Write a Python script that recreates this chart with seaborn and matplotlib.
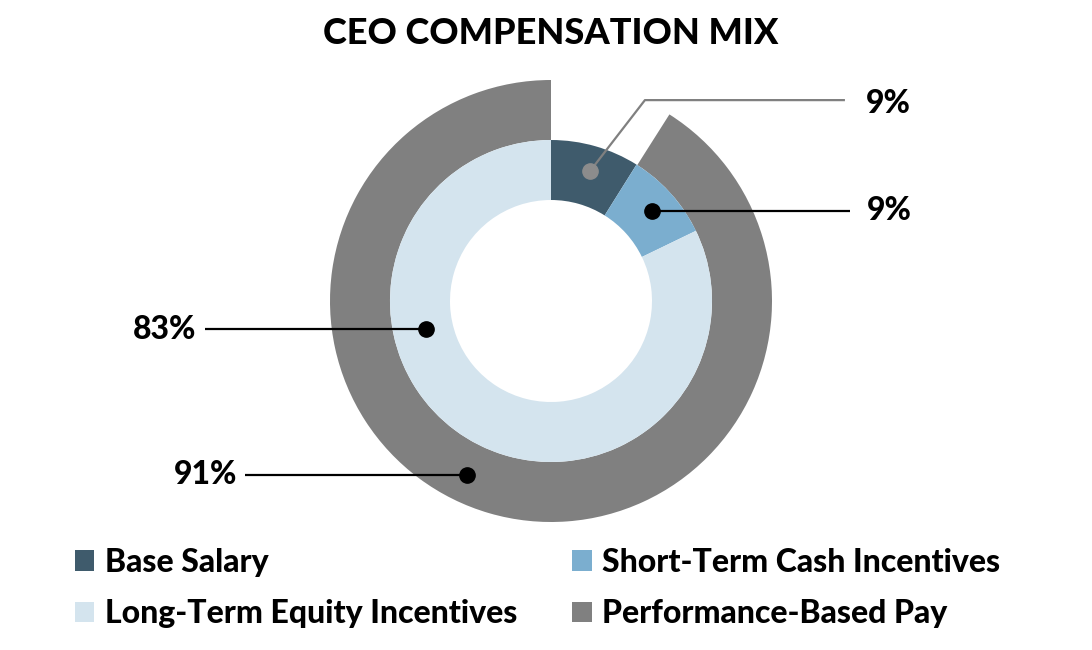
import numpy as np
import matplotlib
matplotlib.use("Agg")
import matplotlib.pyplot as plt
import seaborn as sns
from matplotlib.patches import Patch

# ---- data ----
title = "CEO COMPENSATION MIX"
inner_labels = ["Base Salary", "Short-Term Cash Incentives", "Long-Term Equity Incentives"]
inner_values = [9, 9, 83]
outer_labels = ["Fixed", "Performance-Based Pay"]
outer_values = [9, 91]
# legend: row-wise reading order is Base, Short / Long, Perf -> column-major order below
legend_order = ["Base Salary", "Long-Term Equity Incentives",
                "Short-Term Cash Incentives", "Performance-Based Pay"]

# ---- style ----
sns.set_theme(style="white")
plt.rcParams['font.family'] = ['Lato', 'DejaVu Sans']
plt.rcParams['text.color'] = 'black'

colors = {
    "Base Salary": "#3F5B6C",
    "Short-Term Cash Incentives": "#7BAECF",
    "Long-Term Equity Incentives": "#D4E4EE",
    "Performance-Based Pay": "#808080",
}

W, H = 1092, 650
fig = plt.figure(figsize=(W / 100, H / 100), dpi=100)
cx, cy, R = 551, 301, 221
half = 250
ax = fig.add_axes([(cx - half) / W, (H - cy - half) / H, 2 * half / W, 2 * half / H])
lim = half / R
ax.axis('off')

r_outer = 1.0
r_mid = 161 / R
r_hole = 101 / R

# outer ring
ax.pie(outer_values, radius=r_outer, startangle=90, counterclock=False,
       colors=["none", colors["Performance-Based Pay"]],
       wedgeprops=dict(width=r_outer - r_mid, linewidth=0))
# inner ring
ax.pie(inner_values, radius=r_mid, startangle=90, counterclock=False,
       colors=[colors[l] for l in inner_labels],
       wedgeprops=dict(width=r_mid - r_hole, linewidth=0))
ax.set_xlim(-lim, lim)
ax.set_ylim(-lim, lim)
ax.set_aspect('equal')

# ---- callouts ----
def polar(deg, r):
    a = np.deg2rad(deg)
    return r * np.cos(a), r * np.sin(a)

inner_r = (r_mid + r_hole) / 2 + 0.02
outer_r = (r_outer + r_mid) / 2 + 0.01
fs_lab = 23
WEIGHT = 900
line_kw = dict(lw=1.6, zorder=5, clip_on=False, solid_capstyle='butt')
dot_kw = dict(ms=11, zorder=6, clip_on=False)

# Base salary (gray, bent leader)
dx, dy = polar(73.3, inner_r)
ax.plot([dx, 0.425, 1.33], [dy, 0.909, 0.909], color="#808080", **line_kw)
ax.plot(dx, dy, 'o', color="#8C8C8C", **dot_kw)
ax.text(1.425, 0.895, f"{inner_values[0]}%", ha='left', va='center',
        fontsize=fs_lab, fontweight=WEIGHT, color='black')

# Short-term
dx, dy = polar(41.9, inner_r)
ax.plot([dx, 1.353], [dy, dy], color="black", **line_kw)
ax.plot(dx, dy, 'o', color="black", **dot_kw)
ax.text(1.43, dy, f"{inner_values[1]}%", ha='left', va='center',
        fontsize=fs_lab, fontweight=WEIGHT, color='black')

# Long-term
dx, dy = polar(192.8, inner_r - 0.035)
ax.plot([dx, -1.566], [dy, dy], color="black", **line_kw)
ax.plot(dx, dy, 'o', color="black", **dot_kw)
ax.text(-1.606, dy, f"{inner_values[2]}%", ha='right', va='center',
        fontsize=fs_lab, fontweight=WEIGHT, color='black')

# Performance-based
dx, dy = polar(244.2, outer_r)
ax.plot([dx, -1.385], [dy, dy], color="black", **line_kw)
ax.plot(dx, dy, 'o', color="black", **dot_kw)
ax.text(-1.42, dy, f"{outer_values[1]}%", ha='right', va='center',
        fontsize=fs_lab, fontweight=WEIGHT, color='black')

# ---- title ----
fig.text(cx / W, 1 - 34 / H, title, ha='center', va='center',
         fontsize=26, fontweight=WEIGHT, color='black')

# ---- legend ----
handles = [Patch(facecolor=colors[l], edgecolor='none', label=l) for l in legend_order]
leg = fig.legend(handles=handles, ncol=2, loc='upper left',
                 bbox_to_anchor=(62 / W, 1 - 535 / H), frameon=False,
                 borderaxespad=0, borderpad=0.4,
                 prop=dict(size=23, weight=WEIGHT),
                 handlelength=0.6, handleheight=0.6, handletextpad=0.34,
                 columnspacing=1.73, labelspacing=0.7)
for t in leg.get_texts():
    t.set_color('black')

fig.savefig("out.png", dpi=100)
